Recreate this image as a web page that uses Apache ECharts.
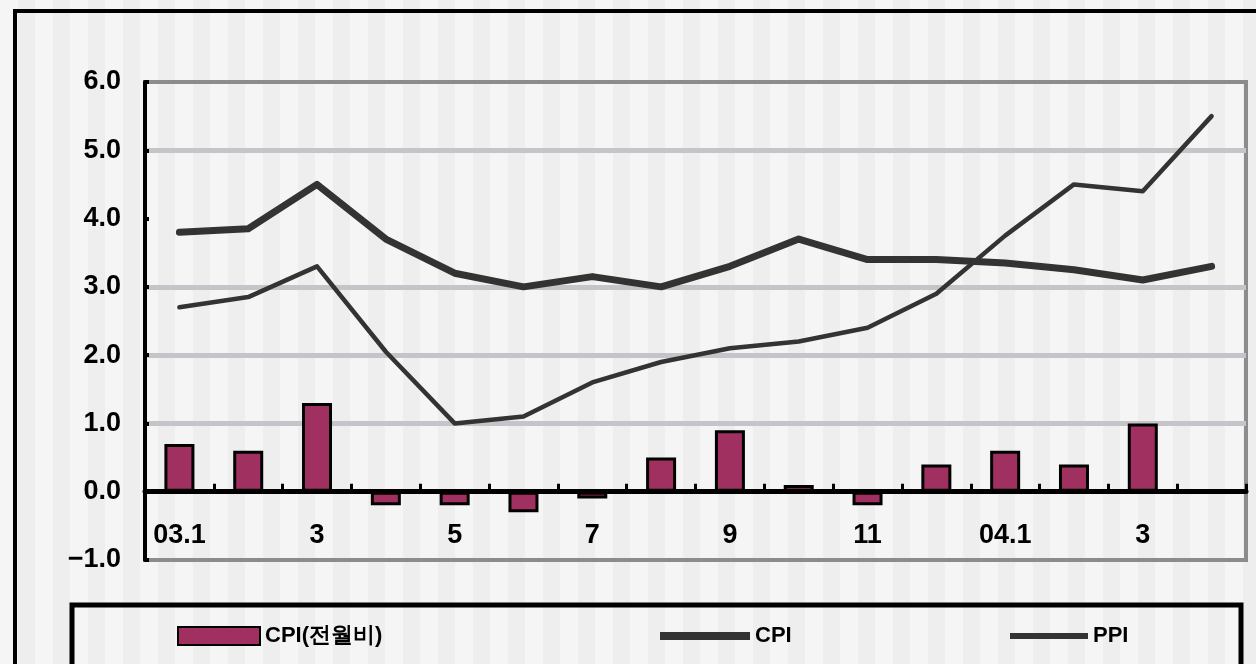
<!DOCTYPE html>
<html>
<head>
<meta charset="utf-8">
<script src="https://cdn.jsdelivr.net/npm/echarts@6/dist/echarts.min.js"></script>
<style>
  html, body { margin: 0; padding: 0; }
  body {
    width: 1256px; height: 664px; overflow: hidden;
    background: repeating-linear-gradient(90deg, #f5f5f5 0px, #f5f5f5 18px, #eeeeee 18px, #eeeeee 35px);
  }
  #chart { width: 1256px; height: 664px; }
</style>
</head>
<body>
<div id="chart"></div>
<script>
// Months from Jan 2003 to Apr 2004
const categories = ['03.1', '2', '3', '4', '5', '6', '7', '8', '9', '10', '11', '12', '04.1', '2', '3', '4'];
// CPI, month-over-month change (%)
const cpiMoM = [0.7, 0.6, 1.3, -0.2, -0.2, -0.3, -0.1, 0.5, 0.9, 0.1, -0.2, 0.4, 0.6, 0.4, 1.0, null];
// CPI, year-over-year change (%)
const cpiYoY = [3.8, 3.85, 4.5, 3.7, 3.2, 3.0, 3.15, 3.0, 3.3, 3.7, 3.4, 3.4, 3.35, 3.25, 3.1, 3.3];
// PPI, year-over-year change (%)
const ppiYoY = [2.7, 2.85, 3.3, 2.05, 1.0, 1.1, 1.6, 1.9, 2.1, 2.2, 2.4, 2.9, 3.75, 4.5, 4.4, 5.5];
// Value axis range
const yMin = -1, yMax = 6, yStep = 1;

const seriesNames = ['CPI(전월비)', 'CPI', 'PPI'];
const labelFont = { fontFamily: 'Liberation Sans', fontWeight: 'bold', color: '#000' };

const chart = echarts.init(document.getElementById('chart'), null, { renderer: 'canvas' });

chart.setOption({
  backgroundColor: 'transparent',
  animation: false,
  grid: {
    left: 145, right: 10, top: 82, bottom: 104,
    show: true, borderColor: '#8c8c8c', borderWidth: 4, backgroundColor: 'transparent'
  },
  xAxis: {
    type: 'category',
    data: categories,
    boundaryGap: true,
    axisLine: { onZero: true, lineStyle: { color: '#000', width: 5 } },
    axisTick: { show: true, inside: true, length: 8, interval: 0, lineStyle: { color: '#000', width: 3 } },
    // month labels sit between the zero line and the −1.0 gridline
    axisLabel: { interval: 1, margin: -38, fontSize: 27, ...labelFont },
    splitLine: { show: false }
  },
  yAxis: {
    type: 'value',
    min: yMin, max: yMax, interval: yStep,
    axisLine: { show: true, lineStyle: { color: '#000', width: 4 } },
    axisTick: { show: true, inside: true, length: 4, lineStyle: { color: '#000', width: 4 } },
    axisLabel: {
      margin: 24, fontSize: 27, ...labelFont,
      formatter: v => (v < 0 ? '\u2212' : '') + Math.abs(v).toFixed(1)
    },
    splitLine: {
      show: true,
      lineStyle: {
        width: 5,
        // -1, 0, 1, 2, 3, 4, 5, 6
        color: ['rgba(0,0,0,0)', 'rgba(0,0,0,0)', '#c6c4c9', '#c6c4c9', '#c6c4c9', 'rgba(0,0,0,0)', '#c6c4c9', 'rgba(0,0,0,0)']
      }
    }
  },
  legend: [
    {
      data: [seriesNames[0]], left: 172, top: 620, itemWidth: 82, itemHeight: 18, itemGap: 0, icon: 'rect',
      textStyle: { fontSize: 22, ...labelFont }
    },
    {
      data: [seriesNames[1]], left: 655, top: 620, itemWidth: 90, itemHeight: 8, icon: 'rect',
      textStyle: { fontSize: 22, ...labelFont }
    },
    {
      data: [seriesNames[2]], left: 1005, top: 620, itemWidth: 78, itemHeight: 6, icon: 'rect',
      textStyle: { fontSize: 22, ...labelFont }
    }
  ],
  series: [
    {
      name: seriesNames[0],
      type: 'bar',
      data: cpiMoM,
      barWidth: 30,
      itemStyle: {
        color: '#a0305f',
        borderColor: '#000', borderWidth: 3
      },
      z: 2
    },
    {
      name: seriesNames[1],
      type: 'line',
      data: cpiYoY,
      symbol: 'none',
      lineStyle: { color: '#333', width: 7, cap: 'round', join: 'round' },
      itemStyle: { color: '#333' },
      z: 3
    },
    {
      name: seriesNames[2],
      type: 'line',
      data: ppiYoY,
      symbol: 'none',
      lineStyle: { color: '#333', width: 4.5, cap: 'round', join: 'round' },
      itemStyle: { color: '#333' },
      z: 3
    }
  ],
  graphic: [
    {
      type: 'rect', silent: true, z: 100,
      shape: { x: 15, y: 11, width: 1300, height: 720 },
      style: { fill: null, stroke: '#000', lineWidth: 4 }
    },
    {
      type: 'polyline', silent: true, z: 100,
      shape: { points: [[72, 664], [72, 605], [1241, 605], [1241, 664]] },
      style: { fill: null, stroke: '#000', lineWidth: 5 }
    }
  ]
});
</script>
</body>
</html>
